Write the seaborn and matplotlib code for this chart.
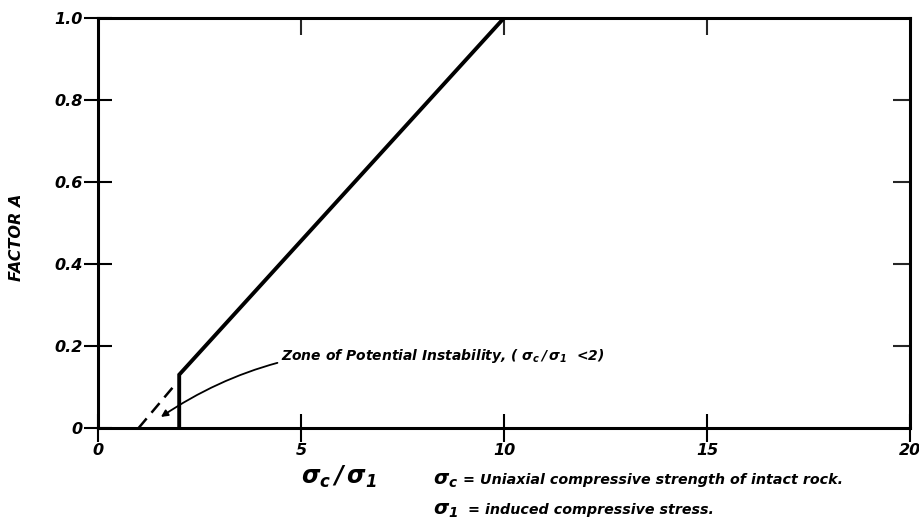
import matplotlib
matplotlib.use("Agg")
import matplotlib.pyplot as plt
import seaborn as sns
import pandas as pd

# ---- data ----
solid_x = [2.0, 2.0, 10.0, 20.0]
solid_y = [0.0, 0.13, 1.0, 1.0]
dashed_x = [1.0, 1.85]
dashed_y = [0.0, 0.10]
x_ticks = [0, 5, 10, 15, 20]
x_tick_labels = ["0", "5", "10", "15", "20"]
y_ticks = [0, 0.2, 0.4, 0.6, 0.8, 1.0]
y_tick_labels = ["0", "0.2", "0.4", "0.6", "0.8", "1.0"]
annot_text = r"Zone of Potential Instability, ( $\sigma_c\,/\,\sigma_1$  <2)"
xlabel_text = r"$\sigma_c\,/\,\sigma_1$"
legend_sym_1 = r"$\sigma_c$"
legend_1 = "= Uniaxial compressive strength of intact rock."
legend_sym_2 = r"$\sigma_1$"
legend_2 = "= induced compressive stress."
ylabel_text = "FACTOR A"

sns.set_style("white")
plt.rcParams["font.family"] = ["DejaVu Sans"]
plt.rcParams["font.weight"] = "bold"
plt.rcParams["font.style"] = "italic"
plt.rcParams["text.color"] = "black"
plt.rcParams["mathtext.fontset"] = "custom"
plt.rcParams["mathtext.rm"] = "DejaVu Sans:bold"
plt.rcParams["mathtext.it"] = "DejaVu Sans:italic:bold"
plt.rcParams["mathtext.bf"] = "DejaVu Sans:bold"

fig = plt.figure(figsize=(9.2, 5.27), dpi=100)
ax = fig.add_axes([98 / 920, 1 - 428 / 527, 812 / 920, 410 / 527])

solid_df = pd.DataFrame({"x": solid_x, "y": solid_y})
dashed_df = pd.DataFrame({"x": dashed_x, "y": dashed_y})
sns.lineplot(data=solid_df, x="x", y="y", sort=False, estimator=None,
             color="black", lw=2.8, ax=ax, solid_joinstyle="miter")
sns.lineplot(data=dashed_df, x="x", y="y", sort=False, estimator=None,
             color="black", lw=1.8, ax=ax, dashes=False, linestyle=(0, (5, 3)))

ax.set_xlim(0, 20)
ax.set_ylim(0, 1.0)
for s in ax.spines.values():
    s.set_linewidth(2.2)
    s.set_color("black")

tick_font = dict(fontsize=11.5, fontweight="bold", fontstyle="italic")
ax.set_xticks(x_ticks)
ax.set_xticklabels(x_tick_labels, **tick_font)
ax.set_yticks(y_ticks)
ax.set_yticklabels(y_tick_labels, **tick_font)
ax.tick_params(axis="both", direction="inout", length=20, width=1.5,
               color="black", labelcolor="black", bottom=True, left=True)
ax.tick_params(axis="x", pad=1)
ax.tick_params(axis="y", pad=1)
ax.set_xlabel("")
ax.set_ylabel("")

top = ax.secondary_xaxis("top")
top.set_xticks([5, 10, 15])
top.set_xticklabels([])
top.tick_params(direction="in", length=12, width=1.5, top=True)
top.spines["top"].set_visible(False)
right = ax.secondary_yaxis("right")
right.set_yticks([0.2, 0.4, 0.6, 0.8])
right.set_yticklabels([])
right.tick_params(direction="in", length=12, width=1.5, right=True)
right.spines["right"].set_visible(False)

ax.annotate(annot_text, xy=(1.55, 0.027), xytext=(4.5, 0.175),
            fontsize=10, fontweight="bold", fontstyle="italic",
            va="center", ha="left", color="black",
            arrowprops=dict(arrowstyle="-|>", color="black", lw=1.3,
                            mutation_scale=10,
                            connectionstyle="arc3,rad=0.2",
                            shrinkA=0, shrinkB=0))

fig.text(17 / 920, 1 - 237 / 527, ylabel_text, rotation=90, ha="center",
         va="center", fontsize=11.5, fontweight="bold", fontstyle="italic")
fig.text(339 / 920, 1 - 477 / 527, xlabel_text, ha="center", va="center",
         fontsize=17)
fig.text(433 / 920, 1 - 480 / 527, legend_sym_1, ha="left", va="center",
         fontsize=14)
fig.text(463 / 920, 1 - 480 / 527, legend_1, ha="left", va="center",
         fontsize=10.3)
fig.text(433 / 920, 1 - 510 / 527, legend_sym_2, ha="left", va="center",
         fontsize=14)
fig.text(468 / 920, 1 - 510 / 527, legend_2, ha="left", va="center",
         fontsize=10.3)

fig.savefig("out.png", dpi=100, facecolor="white")
